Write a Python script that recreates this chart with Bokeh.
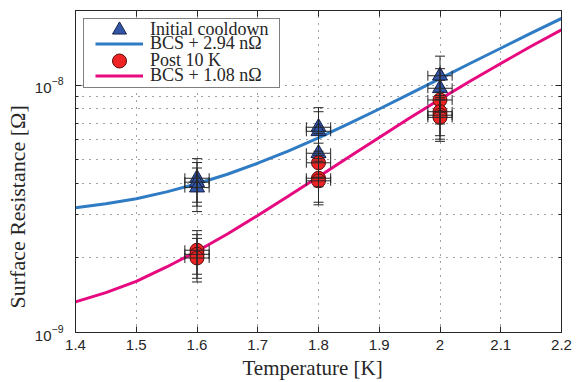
from bokeh.plotting import figure
from bokeh.models import (Range1d, FixedTicker, LogTickFormatter, LinearAxis, LogAxis,
                          Whisker, TeeHead, ColumnDataSource, Legend, LegendItem, Title,
                          CustomJSTickFormatter)
from bokeh.embed import file_html
from bokeh.resources import INLINE

# ---------------- data ----------------
t_initial = [1.6, 1.6, 1.6, 1.8, 1.8, 1.8, 2.0, 2.0]
r_initial = [4.2e-9, 4.05e-9, 3.85e-9, 6.75e-9, 6.5e-9, 5.3e-9, 1.09e-8, 9.7e-9]

t_post = [1.6, 1.6, 1.6, 1.8, 1.8, 1.8, 2.0, 2.0, 2.0, 2.0]
r_post = [2.15e-9, 2.07e-9, 2.0e-9, 4.85e-9, 4.2e-9, 4.1e-9, 8.7e-9, 7.8e-9, 7.55e-9, 7.4e-9]

rel_err = 0.20   # relative resistance uncertainty
t_err = 0.02     # temperature uncertainty [K]

t_fit = [1.40, 1.45, 1.50, 1.55, 1.60, 1.65, 1.70, 1.75, 1.80, 1.85,
         1.90, 1.95, 2.00, 2.05, 2.10, 2.15, 2.20]
fit_294 = [3.19e-9, 3.31e-9, 3.47e-9, 3.70e-9, 3.99e-9, 4.36e-9, 4.83e-9, 5.41e-9, 6.12e-9,
           6.98e-9, 8.00e-9, 9.21e-9, 1.062e-8, 1.224e-8, 1.408e-8, 1.620e-8, 1.857e-8]
fit_108 = [1.33e-9, 1.45e-9, 1.61e-9, 1.84e-9, 2.13e-9, 2.50e-9, 2.97e-9, 3.55e-9, 4.26e-9,
           5.12e-9, 6.14e-9, 7.35e-9, 8.76e-9, 1.038e-8, 1.222e-8, 1.434e-8, 1.671e-8]

x_ticks = [1.4, 1.5, 1.6, 1.7, 1.8, 1.9, 2.0, 2.1, 2.2]
x_tick_labels = ["1.4", "1.5", "1.6", "1.7", "1.8", "1.9", "2", "2.1", "2.2"]
y_ticks = [1e-9, 1e-8]
y_minor = [2e-9, 3e-9, 4e-9, 5e-9, 6e-9, 7e-9, 8e-9, 9e-9, 2e-8]

legend_labels = ["Initial cooldown", "BCS + 2.94 n\u03a9", "Post 10 K", "BCS + 1.08 n\u03a9"]

# ---------------- styling / layout ----------------
AX = "#262626"
TRI_FILL, TRI_LINE = "#3355a6", "#15204a"
CIR_FILL, CIR_LINE = "#ee2424", "#5a0a0a"
BLUE, PINK = "#2f7bc4", "#e6097f"
SERIF = "Liberation Serif"
SANS = "Liberation Sans"
FRAME_W, FRAME_H = 486, 322
LEG_ROW_Y = [29, 43.5, 60, 75]   # legend row centres, px below the canvas top
LEG_TOP_PAD = 10                 # canvas top -> frame top


def make_src(t, r):
    return ColumnDataSource(dict(
        t=t, r=r,
        r_lo=[v * (1 - rel_err) for v in r], r_hi=[v * (1 + rel_err) for v in r],
        t_lo=[v - t_err for v in t], t_hi=[v + t_err for v in t]))


src_i = make_src(t_initial, r_initial)
src_p = make_src(t_post, r_post)

p = figure(frame_width=FRAME_W, frame_height=FRAME_H, y_axis_type="log",
           x_range=Range1d(1.4, 2.2), y_range=Range1d(1e-9, 2e-8),
           output_backend="svg", toolbar_location=None,
           min_border_left=75, min_border_right=26, min_border_top=LEG_TOP_PAD,
           min_border_bottom=50)
p.outline_line_color = AX
p.outline_line_width = 1
p.background_fill_color = "white"
p.border_fill_color = "white"

bottom = p.below[0]
left = p.left[0]

# axes
xt = FixedTicker(ticks=x_ticks, minor_ticks=[])
yt = FixedTicker(ticks=y_ticks, minor_ticks=y_minor)
bottom.ticker = xt
left.ticker = yt
bottom.major_label_overrides = {t: l for t, l in zip(x_ticks, x_tick_labels)}
left.formatter = LogTickFormatter()

blank = CustomJSTickFormatter(code="return ''")
top = LinearAxis(ticker=xt, formatter=blank)
right = LogAxis(ticker=yt, formatter=blank)
p.add_layout(top, "above")
p.add_layout(right, "right")

for ax in (bottom, left, top, right):
    ax.axis_line_color = AX
    ax.major_tick_line_color = AX
    ax.minor_tick_line_color = AX
    ax.major_tick_in = 6
    ax.major_tick_out = 0
    ax.minor_tick_in = 3
    ax.minor_tick_out = 0
    ax.major_label_text_font = SANS
    ax.major_label_text_font_size = "15px"
    ax.major_label_text_color = AX
bottom.major_label_standoff = 7
left.major_label_standoff = 12
top.major_label_standoff = 0
right.major_label_standoff = 0

# grid (dotted, MATLAB-like)
for g in (p.xgrid[0], p.ygrid[0]):
    g.grid_line_color = "#444444"
    g.grid_line_dash = "1 6"
    g.grid_line_width = 1
p.ygrid.minor_grid_line_color = "#444444"
p.ygrid.minor_grid_line_dash = "1 6"

# axis labels as titles so they can be positioned like the reference
p.add_layout(Title(text="Surface Resistance [\u03a9]", align="left", offset=24,
                   text_font=SERIF, text_font_size="22px", text_font_style="normal",
                   text_color=AX, standoff=3), "left")
p.add_layout(Title(text="Temperature [K]", align="left", offset=167,
                   text_font=SERIF, text_font_size="21px", text_font_style="normal",
                   text_color=AX, standoff=2), "below")

# fit curves
l1 = p.line(t_fit, fit_294, line_color=BLUE, line_width=3)
l2 = p.line(t_fit, fit_108, line_color=PINK, line_width=3)

# error bars
for src in (src_i, src_p):
    p.add_layout(Whisker(source=src, base="t", lower="r_lo", upper="r_hi", dimension="height",
                         line_color=AX, line_width=1, level="glyph",
                         lower_head=TeeHead(size=10, line_color=AX, line_width=1),
                         upper_head=TeeHead(size=10, line_color=AX, line_width=1)))
    p.add_layout(Whisker(source=src, base="r", lower="t_lo", upper="t_hi", dimension="width",
                         line_color=AX, line_width=1, level="glyph",
                         lower_head=TeeHead(size=10, line_color=AX, line_width=1),
                         upper_head=TeeHead(size=10, line_color=AX, line_width=1)))

# markers
s1 = p.scatter("t", "r", source=src_i, marker="triangle", size=15,
               fill_color=TRI_FILL, line_color=TRI_LINE, line_width=1)
s2 = p.scatter("t", "r", source=src_p, marker="circle", size=14,
               fill_color=CIR_FILL, line_color=CIR_LINE, line_width=1)

# ---- legend: a framed white box, then one transparent legend per row ----
ghost = p.scatter(x=[], y=[], marker="circle", fill_alpha=0, line_alpha=0)
box = Legend(items=[LegendItem(label=" ", renderers=[ghost])],
             location="top_left", margin=8, padding=0, spacing=0,
             glyph_width=195, glyph_height=68, label_standoff=0, label_width=0,
             label_height=1, label_text_font_size="1px",
             border_line_color="black", border_line_width=1,
             background_fill_color="white", background_fill_alpha=1)
p.add_layout(box)

GLYPH_H = 35   # marker in a legend is drawn at 0.4 * glyph size -> 14 px
for lab, rend, yc in zip(legend_labels, (s1, l1, s2, l2), LEG_ROW_Y):
    vy = FRAME_H - (yc - LEG_TOP_PAD) - GLYPH_H / 2
    row = Legend(items=[LegendItem(label=lab, renderers=[rend])],
                 location=(20, vy), padding=0, spacing=0,
                 glyph_width=48, glyph_height=GLYPH_H, label_standoff=7,
                 label_text_font=SERIF, label_text_font_size="18px", label_text_color=AX,
                 border_line_alpha=0, background_fill_alpha=0)
    p.add_layout(row)

open("out.html", "w").write(file_html(p, INLINE))
